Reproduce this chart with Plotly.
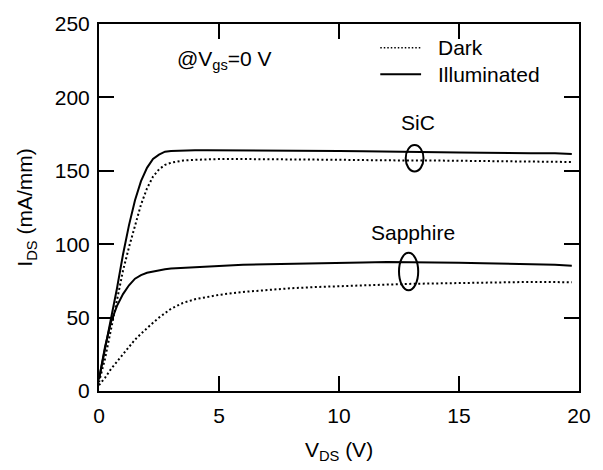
import plotly.graph_objects as go

# Drain voltage sweep (V)
vds = [0, 0.25, 0.5, 0.75, 1, 1.25, 1.5, 1.75, 2, 2.25, 2.5, 2.75, 3, 3.5, 4, 4.5,
       5, 6, 7, 8, 9, 10, 11, 12, 13, 14, 15, 16, 17, 18, 19, 19.7]

# Drain current (mA/mm) for HEMTs on SiC and sapphire substrates
sic_dark = [6, 22, 42, 63, 82, 98, 113, 127, 138, 146, 151, 154, 155.5, 157, 157.5, 157.8,
            158, 158, 158, 158, 157.8, 157.5, 157.3, 157, 157, 157, 156.8, 156.8, 156.5, 156.5, 156.3, 156]
sic_illum = [8, 28, 48, 70, 93, 113, 130, 143, 152, 158, 161, 163, 163.5, 164, 164, 164,
             164, 164, 164, 164, 163.8, 163.5, 163.3, 163.2, 163, 162.8, 162.5, 162.3, 162, 162, 162, 161.5]
sap_dark = [4, 9, 15, 20, 25, 30, 35, 39, 43, 46.5, 50, 53, 56, 60, 62.5, 64,
            65.5, 67.5, 69, 70, 70.8, 71.5, 72, 72.5, 73, 73.3, 73.7, 74, 74.2, 74.3, 74.2, 74]
sap_illum = [8, 30, 47, 58, 66, 72, 76.5, 79, 80.5, 81.5, 82.5, 83, 83.5, 84, 84.5, 85,
             85.5, 86, 86.4, 86.8, 87.1, 87.4, 87.6, 87.8, 87.8, 87.6, 87.3, 87.1, 86.8, 86.4, 86, 85.3]

xticks = [0, 5, 10, 15, 20]
yticks = [0, 50, 100, 150, 200, 250]

FONT = "Liberation Sans, Arial, sans-serif"
FS = 21
dot_style = dict(color="black", width=2, dash="2px,2.5px")
solid_style = dict(color="black", width=2)

fig = go.Figure()
fig.add_trace(go.Scatter(x=vds, y=sic_dark, mode="lines", line=dot_style, name="SiC, dark"))
fig.add_trace(go.Scatter(x=vds, y=sic_illum, mode="lines", line=solid_style, name="SiC, illuminated"))
fig.add_trace(go.Scatter(x=vds, y=sap_dark, mode="lines", line=dot_style, name="Sapphire, dark"))
fig.add_trace(go.Scatter(x=vds, y=sap_illum, mode="lines", line=solid_style, name="Sapphire, illuminated"))

# Ellipses grouping the curve pairs of each substrate
fig.add_shape(type="circle", xref="x", yref="y", x0=12.78, x1=13.52, y0=149.5, y1=167.5,
              line=dict(color="black", width=2))
fig.add_shape(type="circle", xref="x", yref="y", x0=12.5, x1=13.3, y0=68.6, y1=94.2,
              line=dict(color="black", width=2))

# Key: line styles for dark and illuminated measurements
fig.add_shape(type="line", xref="paper", yref="paper", x0=0.586, x1=0.671, y0=0.9355, y1=0.9355,
              line=dict(color="black", width=1.5, dash="1.5px,2px"))
fig.add_shape(type="line", xref="paper", yref="paper", x0=0.586, x1=0.671, y0=0.863, y1=0.863,
              line=dict(color="black", width=2))
fig.add_annotation(xref="paper", yref="paper", x=0.702, y=0.9355, text="Dark",
                   xanchor="left", yanchor="middle", showarrow=False,
                   font=dict(family=FONT, size=FS, color="black"))
fig.add_annotation(xref="paper", yref="paper", x=0.702, y=0.863, text="Illuminated",
                   xanchor="left", yanchor="middle", showarrow=False,
                   font=dict(family=FONT, size=FS, color="black"))

fig.add_annotation(x=13.28, y=183, text="SiC", showarrow=False,
                   font=dict(family=FONT, size=FS, color="black"))
fig.add_annotation(x=13.1, y=108, text="Sapphire", showarrow=False,
                   font=dict(family=FONT, size=FS, color="black"))
fig.add_annotation(x=5.22, y=225.5, text="@V<sub>gs</sub>=0 V", showarrow=False,
                   font=dict(family=FONT, size=FS, color="black"))

axis_common = dict(showline=True, linecolor="black", linewidth=2, mirror="allticks",
                   ticks="inside", ticklen=15, tickwidth=2, tickcolor="black",
                   showgrid=False, zeroline=False,
                   tickfont=dict(family=FONT, size=FS, color="black"))

fig.update_xaxes(range=[0, 20], tickvals=xticks, ticktext=[str(v) for v in xticks],
                 ticklabelstandoff=5,
                 title=dict(text="V<sub>DS</sub> (V)", standoff=16,
                            font=dict(family=FONT, size=FS, color="black")),
                 **axis_common)
fig.update_yaxes(range=[0, 250], tickvals=yticks, ticktext=[str(v) for v in yticks],
                 ticklabelstandoff=3,
                 title=dict(text="I<sub>DS</sub> (mA/mm)", standoff=16,
                            font=dict(family=FONT, size=FS, color="black")),
                 **axis_common)

fig.update_layout(
    width=603, height=470,
    margin=dict(l=99, r=21, t=21, b=77),
    paper_bgcolor="white", plot_bgcolor="white",
    showlegend=False,
)

fig.write_html("out.html")
